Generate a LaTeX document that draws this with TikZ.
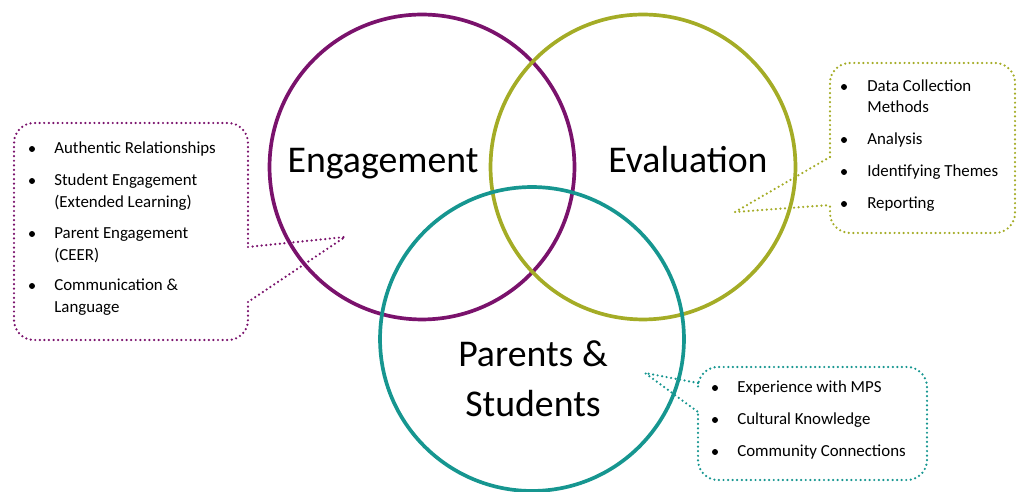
\documentclass[tikz,border=0pt]{standalone}
\usepackage{fontspec}
\setmainfont{Carlito}
\usetikzlibrary{positioning}
\definecolor{vnpurple}{RGB}{122,18,108}
\definecolor{vnolive}{RGB}{164,172,38}
\definecolor{vnteal}{RGB}{22,150,144}
\tikzset{
  ring/.style={line width=2.1pt},
  title/.style={font=\fontsize{21.5}{28}\selectfont, anchor=base, inner sep=0pt},
  itemtext/.style={font=\fontsize{9.6}{12.5}\selectfont, anchor=base west, inner sep=0pt},
  itemdot/.style={circle, fill=black, inner sep=0pt, minimum size=3.4pt},
  dotline/.style={line width=1.4pt, line cap=round, dash pattern=on 0pt off 2.6pt},
  boxline/.style={dotline, rounded corners=0.4cm}
}

\begin{document}
\begin{tikzpicture}[x=0.02cm, y=-0.02cm]
\useasboundingbox (0,0) rectangle (1021,492);
% Three rings
\draw[ring, vnpurple] (422,167) circle[radius=3.05cm];
\draw[ring, vnolive] (643,167) circle[radius=3.05cm];
\draw[ring, vnteal] (532,339) circle[radius=3.04cm];
% Ring titles
\node[title] (engage) at (383,173) {Engagement};
\node[title] (evalu) at (688,173) {Evaluation};
\node[title] (parents) at (533,367) {Parents \&};
\node[title] (students) at (533,417) {Students};

% Engagement callout
\draw[boxline, vnpurple] (248,302) -- (248,340) -- (14,340) -- (14,123) -- (248,123) -- (248,247);
\draw[dotline, vnpurple] (248,247) -- (345,237) -- (248,302);
\foreach \y/\t [count=\i] in {154/Authentic Relationships, 186/Student Engagement,
    208/{(Extended Learning)}, 239/Parent Engagement, 261/{(CEER)},
    291/Communication \&, 313/Language}
  \node[itemtext] (engitem\i) at (54,\y) {\t};
\foreach \y in {154,186,239,291}
  \node[itemdot] (engdot\y) at (32,\y-5) {};

% Evaluation callout
\draw[boxline, vnolive] (830,157) -- (830,63) -- (1015,63) -- (1015,233) -- (830,233) -- (830,205);
\draw[dotline, vnolive] (830,157) -- (735,212) -- (830,205);
\foreach \y/\t [count=\i] in {92/Data Collection, 113/Methods, 145/Analysis,
    177/Identifying Themes, 209/Reporting}
  \node[itemtext] (evaitem\i) at (867,\y) {\t};
\foreach \y in {92,145,177,209}
  \node[itemdot] (evadot\y) at (844,\y-5) {};

% Parents & Students callout
\draw[boxline, vnteal] (698,383) -- (698,367) -- (927,367) -- (927,480) -- (698,480) -- (698,412);
\draw[dotline, vnteal] (698,383) -- (645,373) -- (698,412);
\foreach \y/\t [count=\i] in {393/Experience with MPS, 425/Cultural Knowledge,
    457/Community Connections}
  \node[itemtext] (psitem\i) at (737,\y) {\t};
\foreach \y in {393,425,457}
  \node[itemdot] (psdot\y) at (715,\y-5) {};
\end{tikzpicture}
\end{document}
